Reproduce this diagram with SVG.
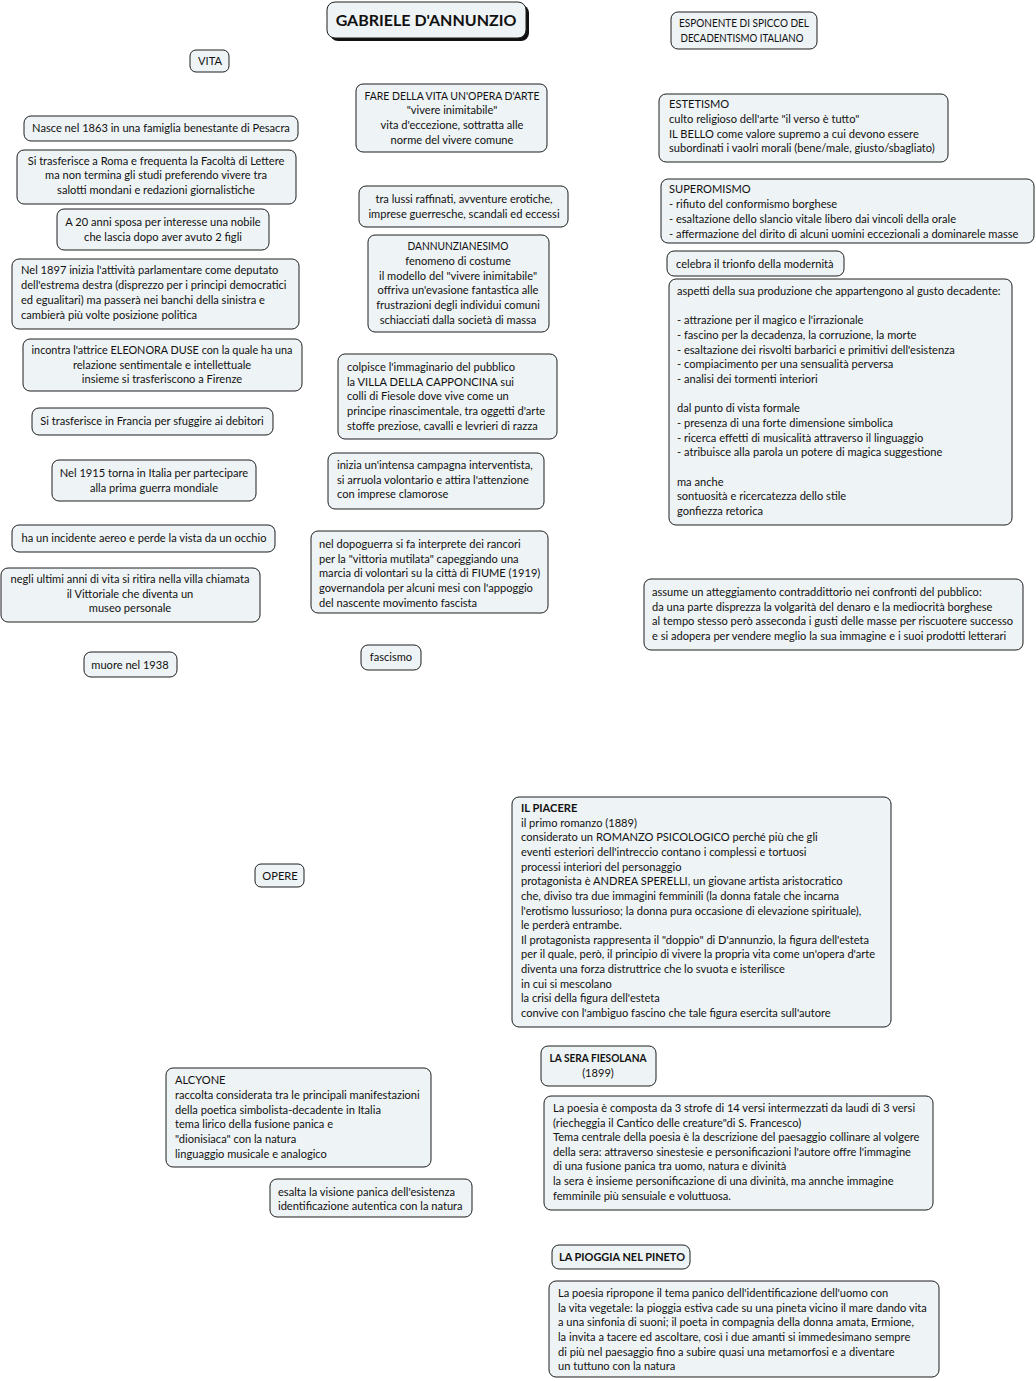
<svg xmlns="http://www.w3.org/2000/svg" width="1036" height="1381" viewBox="0 0 1036 1381">
<style>
.n{fill:#eef3f5;stroke:#1e1e1e;stroke-width:1}
text{font-family:Lato,"Liberation Sans",sans-serif;font-size:11.1px;fill:#111}
.c{text-anchor:middle}
.b{font-weight:bold}
.title{font-size:16px;font-weight:bold}
</style>
<rect width="1036" height="1381" fill="#ffffff"/>
<g id="connectors"></g>

<g id="title">
<rect x="330" y="5" width="199" height="36" rx="8" fill="#111"/>
<rect class="n" x="327" y="2" width="199" height="36" rx="8"/>
<text class="title c" x="426" y="26">GABRIELE D'ANNUNZIO</text>
</g>

<g id="vita">
<rect class="n" x="190" y="50" width="39" height="22" rx="6"/>
<text class="c" x="210" y="65">VITA</text>
</g>

<g id="esponente">
<rect class="n" x="671" y="12" width="146" height="37" rx="7"/>
<text class="c" x="744" y="27" textLength="130" lengthAdjust="spacingAndGlyphs">ESPONENTE DI SPICCO DEL</text>
<text class="c" x="742" y="42" textLength="123" lengthAdjust="spacingAndGlyphs">DECADENTISMO ITALIANO</text>
</g>

<g id="fare">
<rect class="n" x="356" y="84" width="191" height="68" rx="7"/>
<text class="c" x="452" y="100" textLength="175" lengthAdjust="spacingAndGlyphs">FARE DELLA VITA UN'OPERA D'ARTE</text>
<text class="c" x="452" y="114">"vivere inimitabile"</text>
<text class="c" x="452" y="129">vita d'eccezione, sottratta alle</text>
<text class="c" x="452" y="144">norme del vivere comune</text>
</g>

<g id="nasce">
<rect class="n" x="24" y="116" width="274" height="25" rx="7"/>
<text class="c" x="161" y="132">Nasce nel 1863 in una famiglia benestante di Pesacra</text>
</g>

<g id="roma">
<rect class="n" x="17" y="150" width="279" height="54" rx="7"/>
<text class="c" x="156" y="165">Si trasferisce a Roma e frequenta la Facoltà di Lettere</text>
<text class="c" x="156" y="179">ma non termina gli studi preferendo vivere tra</text>
<text class="c" x="156" y="194">salotti mondani e redazioni giornalistiche</text>
</g>

<g id="sposa">
<rect class="n" x="57" y="209" width="212" height="41" rx="7"/>
<text class="c" x="163" y="226">A 20 anni sposa per interesse una nobile</text>
<text class="c" x="163" y="241">che lascia dopo aver avuto 2 figli</text>
</g>

<g id="parlamento">
<rect class="n" x="12" y="259" width="287" height="70" rx="7"/>
<text x="21" y="274">Nel 1897 inizia l'attività parlamentare come deputato</text>
<text x="21" y="289">dell'estrema destra (disprezzo per i principi democratici</text>
<text x="21" y="304">ed egualitari) ma passerà nei banchi della sinistra e</text>
<text x="21" y="319">cambierà più volte posizione politica</text>
</g>

<g id="duse">
<rect class="n" x="23" y="339" width="279" height="52" rx="7"/>
<text class="c" x="162" y="354" textLength="261" lengthAdjust="spacingAndGlyphs">incontra l'attrice ELEONORA DUSE con la quale ha una</text>
<text class="c" x="162" y="369">relazione sentimentale e intellettuale</text>
<text class="c" x="162" y="383">insieme si trasferiscono a Firenze</text>
</g>

<g id="francia">
<rect class="n" x="32" y="408" width="241" height="27" rx="7"/>
<text class="c" x="152" y="425">Si trasferisce in Francia per sfuggire ai debitori</text>
</g>

<g id="guerra">
<rect class="n" x="52" y="460" width="204" height="41" rx="7"/>
<text class="c" x="154" y="477">Nel 1915 torna in Italia per partecipare</text>
<text class="c" x="154" y="492">alla prima guerra mondiale</text>
</g>

<g id="incidente">
<rect class="n" x="12" y="525" width="263" height="27" rx="7"/>
<text class="c" x="144" y="542">ha un incidente aereo e perde la vista da un occhio</text>
</g>

<g id="vittoriale">
<rect class="n" x="1" y="568" width="259" height="54" rx="7"/>
<text class="c" x="130" y="583">negli ultimi anni di vita si ritira nella villa chiamata</text>
<text class="c" x="130" y="598">il Vittoriale che diventa un</text>
<text class="c" x="130" y="612">museo personale</text>
</g>

<g id="muore">
<rect class="n" x="84" y="652" width="93" height="25" rx="7"/>
<text class="c" x="130" y="669">muore nel 1938</text>
</g>

<g id="lussi">
<rect class="n" x="359" y="186" width="209" height="41" rx="7"/>
<text class="c" x="464" y="203">tra lussi raffinati, avventure erotiche,</text>
<text class="c" x="464" y="218">imprese guerresche, scandali ed eccessi</text>
</g>

<g id="dannunzianesimo">
<rect class="n" x="368" y="235" width="181" height="97" rx="7"/>
<text class="c" x="458" y="250" textLength="101" lengthAdjust="spacingAndGlyphs">DANNUNZIANESIMO</text>
<text class="c" x="458" y="265">fenomeno di costume</text>
<text class="c" x="458" y="280">il modello del "vivere inimitabile"</text>
<text class="c" x="458" y="294">offriva un'evasione fantastica alle</text>
<text class="c" x="458" y="309">frustrazioni degli individui comuni</text>
<text class="c" x="458" y="324">schiacciati dalla società di massa</text>
</g>

<g id="capponcina">
<rect class="n" x="338" y="354" width="219" height="85" rx="7"/>
<text x="347" y="371">colpisce l'immaginario del pubblico</text>
<text x="347" y="386">la VILLA DELLA CAPPONCINA sui</text>
<text x="347" y="400">colli di Fiesole dove vive come un</text>
<text x="347" y="415">principe rinascimentale, tra oggetti d'arte</text>
<text x="347" y="430">stoffe preziose, cavalli e levrieri di razza</text>
</g>

<g id="interventista">
<rect class="n" x="328" y="453" width="216" height="56" rx="7"/>
<text x="337" y="469">inizia un'intensa campagna interventista,</text>
<text x="337" y="484">si arruola volontario e attira l'attenzione</text>
<text x="337" y="498">con imprese clamorose</text>
</g>

<g id="fiume">
<rect class="n" x="311" y="531" width="237" height="82" rx="7"/>
<text x="319" y="548">nel dopoguerra si fa interprete dei rancori</text>
<text x="319" y="563">per la "vittoria mutilata" capeggiando una</text>
<text x="319" y="577">marcia di volontari su la città di FIUME (1919)</text>
<text x="319" y="592">governandola per alcuni mesi con l'appoggio</text>
<text x="319" y="607">del nascente movimento fascista</text>
</g>

<g id="fascismo">
<rect class="n" x="361" y="645" width="60" height="25" rx="7"/>
<text class="c" x="391" y="661">fascismo</text>
</g>

<g id="estetismo">
<rect class="n" x="659" y="94" width="289" height="68" rx="7"/>
<text x="669" y="108">ESTETISMO</text>
<text x="669" y="123">culto religioso dell'arte "il verso è tutto"</text>
<text x="669" y="138">IL BELLO come valore supremo a cui devono essere</text>
<text x="669" y="152">subordinati i vaolri morali (bene/male, giusto/sbagliato)</text>
</g>

<g id="superomismo">
<rect class="n" x="661" y="179" width="373" height="64" rx="7"/>
<text x="669" y="193">SUPEROMISMO</text>
<text x="669" y="208">- rifiuto del conformismo borghese</text>
<text x="669" y="223">- esaltazione dello slancio vitale libero dai vincoli della orale</text>
<text x="669" y="238">- affermazione del dirito di alcuni uomini eccezionali a dominarele  masse</text>
</g>

<g id="modernita">
<rect class="n" x="667" y="251" width="177" height="25" rx="7"/>
<text x="676" y="268">celebra il trionfo della modernità</text>
</g>

<g id="aspetti">
<rect class="n" x="669" y="279" width="343" height="246" rx="7"/>
<text x="677" y="295">aspetti della sua produzione che appartengono al gusto decadente:</text>
<text x="677" y="324.3">- attrazione per il magico e l'irrazionale</text>
<text x="677" y="339">- fascino per la decadenza, la corruzione, la morte</text>
<text x="677" y="353.6">- esaltazione dei risvolti barbarici e primitivi dell'esistenza</text>
<text x="677" y="368.3">- compiacimento per una sensualità perversa</text>
<text x="677" y="383">- analisi dei tormenti interiori</text>
<text x="677" y="412.3">dal punto di vista formale</text>
<text x="677" y="427">- presenza di una forte dimensione simbolica</text>
<text x="677" y="441.6">- ricerca effetti di musicalità attraverso il linguaggio</text>
<text x="677" y="456.3">- atribuisce alla parola un potere di magica suggestione</text>
<text x="677" y="485.6">ma anche</text>
<text x="677" y="500.3">sontuosità e ricercatezza dello stile</text>
<text x="677" y="515">gonfiezza retorica</text>
</g>

<g id="pubblico">
<rect class="n" x="644" y="579" width="379" height="71" rx="7"/>
<text x="652" y="596">assume un atteggiamento contraddittorio nei confronti del pubblico:</text>
<text x="652" y="611">da una parte disprezza la volgarità del denaro e la mediocrità borghese</text>
<text x="652" y="625">al tempo stesso però asseconda i gusti delle masse per riscuotere successo</text>
<text x="652" y="640">e si adopera per vendere meglio la sua immagine e i suoi prodotti letterari</text>
</g>

<g id="opere">
<rect class="n" x="255" y="864" width="49" height="23" rx="6"/>
<text class="c" x="280" y="880">OPERE</text>
</g>

<g id="piacere">
<rect class="n" x="512" y="797" width="379" height="230" rx="7"/>
<text class="b" x="521" y="812">IL PIACERE</text>
<text x="521" y="826.6">il primo romanzo (1889)</text>
<text x="521" y="841.3">considerato un ROMANZO PSICOLOGICO perché più che gli</text>
<text x="521" y="855.9">eventi esteriori dell'intreccio contano i complessi e tortuosi</text>
<text x="521" y="870.6">processi interiori del personaggio</text>
<text x="521" y="885.2">protagonista è ANDREA SPERELLI, un giovane artista aristocratico</text>
<text x="521" y="899.8">che, diviso tra due immagini femminili (la donna fatale che incarna</text>
<text x="521" y="914.5">l'erotismo lussurioso; la donna pura occasione di elevazione spirituale),</text>
<text x="521" y="929.1">le perderà entrambe.</text>
<text x="521" y="943.8">Il protagonista rappresenta il "doppio" di D'annunzio, la figura dell'esteta</text>
<text x="521" y="958.4">per il quale, però, il principio di vivere la propria vita come un'opera d'arte</text>
<text x="521" y="973">diventa una forza distruttrice che lo svuota e isterilisce</text>
<text x="521" y="987.7">in cui si mescolano</text>
<text x="521" y="1002.3">la crisi della figura dell'esteta</text>
<text x="521" y="1017">convive con l'ambiguo fascino che tale figura esercita sull'autore</text>
</g>

<g id="sera">
<rect class="n" x="541" y="1046" width="115" height="40" rx="7"/>
<text class="b c" x="598" y="1062" textLength="97" lengthAdjust="spacingAndGlyphs">LA SERA FIESOLANA</text>
<text class="c" x="598" y="1077">(1899)</text>
</g>

<g id="sera-testo">
<rect class="n" x="544" y="1096" width="389" height="114" rx="7"/>
<text x="553" y="1112">La poesia è composta da 3 strofe di 14 versi intermezzati da laudi di 3 versi</text>
<text x="553" y="1127">(riecheggia il Cantico delle creature"di S. Francesco)</text>
<text x="553" y="1141">Tema centrale della poesia è la descrizione del paesaggio collinare al volgere</text>
<text x="553" y="1156">della sera: attraverso sinestesie e personificazioni l'autore offre l'immagine</text>
<text x="553" y="1170">di una fusione panica tra uomo, natura e divinità</text>
<text x="553" y="1185">la sera è insieme personificazione di una divinità, ma annche immagine</text>
<text x="553" y="1200">femminile più sensuiale e voluttuosa.</text>
</g>

<g id="alcyone">
<rect class="n" x="166" y="1068" width="265" height="99" rx="7"/>
<text x="175" y="1084">ALCYONE</text>
<text x="175" y="1099">raccolta considerata tra le principali manifestazioni</text>
<text x="175" y="1114">della poetica simbolista-decadente in Italia</text>
<text x="175" y="1128">tema lirico della fusione panica e</text>
<text x="175" y="1143">"dionisiaca" con la natura</text>
<text x="175" y="1158">linguaggio musicale e analogico</text>
</g>

<g id="esalta">
<rect class="n" x="270" y="1179" width="202" height="38" rx="7"/>
<text x="278" y="1196">esalta la visione panica dell'esistenza</text>
<text x="278" y="1210">identificazione autentica con la natura</text>
</g>

<g id="pioggia">
<rect class="n" x="552" y="1245" width="138" height="24" rx="7"/>
<text class="b c" x="622" y="1261" textLength="126" lengthAdjust="spacingAndGlyphs">LA PIOGGIA NEL PINETO</text>
</g>

<g id="pioggia-testo">
<rect class="n" x="549" y="1281" width="390" height="96" rx="7"/>
<text x="558" y="1297">La poesia ripropone il tema panico dell'identificazione dell'uomo con</text>
<text x="558" y="1312">la vita vegetale: la pioggia estiva cade su una pineta vicino il mare dando vita</text>
<text x="558" y="1326">a una sinfonia di suoni; il poeta in compagnia della donna amata, Ermione,</text>
<text x="558" y="1341">la invita a tacere ed ascoltare, così i due amanti si immedesimano sempre</text>
<text x="558" y="1356">di più nel paesaggio fino a subire quasi una metamorfosi e a diventare</text>
<text x="558" y="1370">un tuttuno con la natura</text>
</g>
</svg>
